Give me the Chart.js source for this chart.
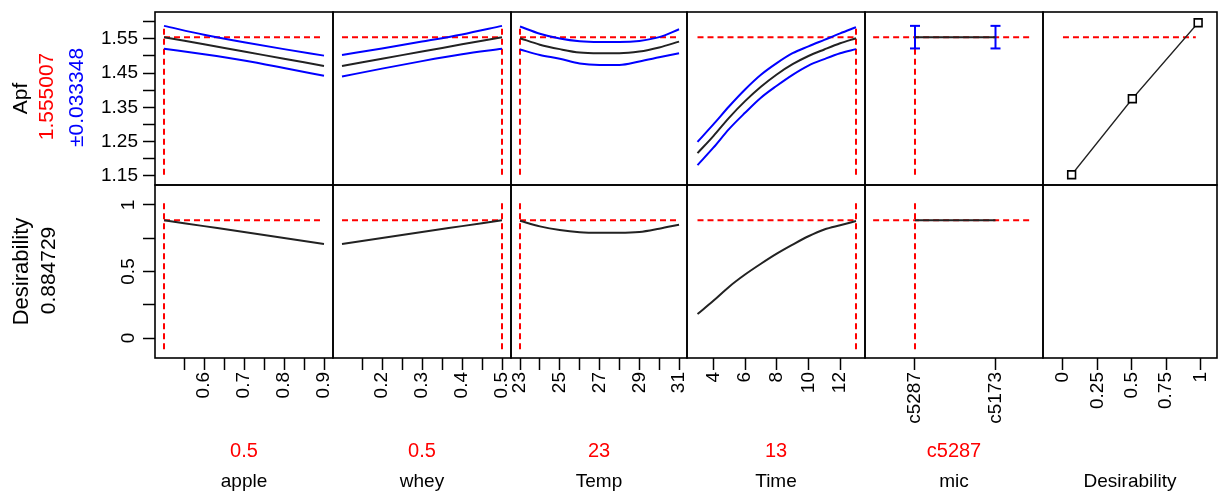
<!DOCTYPE html>
<html>
<head>
<meta charset="utf-8">
<script src="https://cdn.jsdelivr.net/npm/chart.js@4/dist/chart.umd.min.js"></script>
<style>
html,body{margin:0;padding:0;background:#fff;}
#wrap{position:relative;width:1219px;height:493px;}
</style>
</head>
<body>
<div id="wrap"><canvas id="c" width="1219" height="493"></canvas></div>
<script>
// ---------------- DATA ----------------
// factor grids
const appleX = [0.5, 0.6, 0.7, 0.8, 0.9];
const wheyX  = [0.1, 0.2, 0.3, 0.4, 0.5];
const tempX  = [23, 24, 25, 26, 27, 28, 29, 30, 31];
const timeX  = [3, 4, 5, 6, 7, 8, 9, 10, 11, 12, 13];
const micX   = [0, 1];                    // index of mic category
const micCategories = ['c5287', 'c5173'];

// Apf prediction and confidence band
const appleApf   = [1.555, 1.534, 1.513, 1.492, 1.471];
const appleUpper = [1.588, 1.562, 1.540, 1.520, 1.501];
const appleLower = [1.521, 1.505, 1.487, 1.465, 1.442];

const wheyApf    = [1.471, 1.492, 1.513, 1.534, 1.555];
const wheyUpper  = [1.503, 1.522, 1.542, 1.563, 1.588];
const wheyLower  = [1.440, 1.463, 1.485, 1.505, 1.521];

const tempApf    = [1.552, 1.533, 1.520, 1.510, 1.508, 1.508, 1.513, 1.525, 1.542];
const tempUpper  = [1.586, 1.565, 1.551, 1.543, 1.541, 1.541, 1.544, 1.555, 1.578];
const tempLower  = [1.519, 1.503, 1.492, 1.478, 1.474, 1.474, 1.484, 1.496, 1.508];

const timeApf    = [1.216, 1.266, 1.320, 1.368, 1.410, 1.446, 1.476, 1.500, 1.519, 1.537, 1.552];
const timeUpper  = [1.249, 1.300, 1.353, 1.402, 1.445, 1.479, 1.508, 1.528, 1.547, 1.566, 1.584];
const timeLower  = [1.181, 1.232, 1.287, 1.334, 1.378, 1.413, 1.445, 1.472, 1.491, 1.508, 1.520];

const micApf     = [1.555, 1.555];
const micUpper   = [1.588, 1.588];
const micLower   = [1.522, 1.522];

// Desirability traces
const appleDes = [0.885, 0.841, 0.797, 0.752, 0.707];
const wheyDes  = [0.707, 0.752, 0.797, 0.841, 0.885];
const tempDes  = [0.881, 0.839, 0.811, 0.795, 0.791, 0.791, 0.797, 0.822, 0.852];
const timeDes  = [0.180, 0.280, 0.386, 0.477, 0.558, 0.634, 0.702, 0.765, 0.816, 0.848, 0.879];
const micDes   = [0.8847, 0.8847];

// Desirability function (Apf -> desirability)
const desFuncD   = [0.063, 0.504, 0.982];
const desFuncApf = [1.153, 1.375, 1.597];

// Current settings
const apfCurrent = 1.555007;
const desCurrent = 0.884729;
const apfCurrentText = '1.555007';
const apfCIText = '\u00B10.033348';
const desCurrentText = '0.884729';
const factorCurrent = [0.5, 0.5, 23, 13, 0];
const factorCurrentText = ['0.5', '0.5', '23', '13', 'c5287', ''];
const factorNames = ['apple', 'whey', 'Temp', 'Time', 'mic', 'Desirability'];

// guide-line extents
const apfGuideY = [1.153, 1.589];
const desGuideY = [-0.085, 1.04];
const micGuideX = [-0.52, 1.42];
const desGuideX = [0, 0.965];

// Tick values and labels
const appleTicks = [0.55, 0.6, 0.65, 0.7, 0.75, 0.8, 0.85, 0.9];
const appleTickLabels = ['', '0.6', '', '0.7', '', '0.8', '', '0.9'];
const wheyTicks = [0.15, 0.2, 0.25, 0.3, 0.35, 0.4, 0.45, 0.5];
const wheyTickLabels = ['', '0.2', '', '0.3', '', '0.4', '', '0.5'];
const tempTicks = [23, 24, 25, 26, 27, 28, 29, 30, 31];
const tempTickLabels = ['23', '', '25', '', '27', '', '29', '', '31'];
const timeTicks = [4, 6, 8, 10, 12];
const timeTickLabels = ['4', '6', '8', '10', '12'];
const micTicks = [0, 1];
const micTickLabels = micCategories;
const desXTicks = [0, 0.25, 0.5, 0.75, 1];
const desXTickLabels = ['0', '0.25', '0.5', '0.75', '1'];
const apfTicks = [1.15, 1.2, 1.25, 1.3, 1.35, 1.4, 1.45, 1.5, 1.55, 1.6];
const apfTickLabels = ['1.15', '', '1.25', '', '1.35', '', '1.45', '', '1.55', ''];
const desYTicks = [0, 0.25, 0.5, 0.75, 1];
const desYTickLabels = ['0', '', '0.5', '', '1'];

// ---------------- STYLE / LAYOUT ----------------
const FONT = 'Liberation Sans, Arial, Helvetica, sans-serif';
const RED = '#ff0000', BLUE = '#0000ff', BLACK = '#222222';
const LEFT_W = 155, BOTTOM_H = 135;

Chart.defaults.font.family = FONT;
Chart.defaults.color = '#000';

function pts(xs, ys) { return xs.map((x, i) => ({x: x, y: ys[i]})); }
function line(xs, ys, xA, yA, color, extra) {
  return Object.assign({
    data: pts(xs, ys), xAxisID: xA, yAxisID: yA, showLine: true,
    borderColor: color, backgroundColor: color, borderWidth: 2,
    pointRadius: 0, pointHoverRadius: 0, fill: false,
    cubicInterpolationMode: 'monotone'
  }, extra || {});
}
const dash = {borderDash: [6, 4], borderWidth: 2, cubicInterpolationMode: 'default', tension: 0};

function xScale(min, max, ticks, labels, title, weight) {
  return {
    type: 'linear', position: 'bottom', stack: 'cols', stackWeight: weight,
    min: min, max: max,
    afterBuildTicks: s => { s.ticks = ticks.map(v => ({value: v})); },
    afterFit: s => { s.height = BOTTOM_H; s.paddingLeft = 0; s.paddingRight = 0; s.paddingTop = 0; s.paddingBottom = 0; },
    grid: {drawOnChartArea: false, tickLength: 12, tickColor: '#000', tickWidth: 1.5},
    border: {display: false},
    ticks: {autoSkip: false, minRotation: 90, maxRotation: 90, padding: 2, color: '#000',
            font: {size: 19}, callback: (v, i) => labels[i]},
    title: {display: true, text: title, color: '#000', font: {size: 19}, padding: {top: 0, bottom: 0}}
  };
}
function yScale(min, max, ticks, labels, title, rot, pad, titleSize) {
  return {
    type: 'linear', position: 'left', stack: 'rows', min: min, max: max,
    afterBuildTicks: s => { s.ticks = ticks.map(v => ({value: v})); },
    afterFit: s => { s.width = LEFT_W; s.paddingLeft = 0; s.paddingRight = 0; s.paddingTop = 0; s.paddingBottom = 0; },
    grid: {drawOnChartArea: false, tickLength: 12, tickColor: '#000', tickWidth: 1.5},
    border: {display: false},
    ticks: {autoSkip: false, minRotation: rot, maxRotation: rot, padding: pad, color: '#000',
            crossAlign: rot ? 'center' : 'near',
            font: {size: 19}, callback: (v, i) => labels[i]},
    title: {display: true, text: title, color: '#000', font: {size: titleSize}, padding: {top: 9, bottom: 0}}
  };
}

const colAxes = ['xApple', 'xWhey', 'xTemp', 'xTime', 'xMic', 'xDes'];
const rowAxes = ['yApf', 'yDes'];

const framePlugin = {
  id: 'frame',
  afterDatasetsDraw(chart) {
    const ctx = chart.ctx;
    ctx.save();
    ctx.strokeStyle = '#000';
    ctx.lineWidth = 1.6;
    colAxes.forEach(xa => rowAxes.forEach(ya => {
      const xs = chart.scales[xa], ys = chart.scales[ya];
      ctx.strokeRect(xs.left, ys.top, xs.right - xs.left, ys.bottom - ys.top);
    }));
    ctx.restore();
  },
  afterDraw(chart) {
    const ctx = chart.ctx;
    ctx.save();
    function vtext(txt, color, x, cy, size) {
      ctx.save();
      ctx.translate(x, cy);
      ctx.rotate(-Math.PI / 2);
      ctx.font = size + 'px ' + FONT;
      ctx.fillStyle = color;
      ctx.textAlign = 'center';
      ctx.textBaseline = 'alphabetic';
      ctx.fillText(txt, 0, 0);
      ctx.restore();
    }
    const ya = chart.scales.yApf, yd = chart.scales.yDes;
    vtext(apfCurrentText, RED, ya.left + 53, (ya.top + ya.bottom) / 2 - 2, 21);
    vtext(apfCIText, BLUE, ya.left + 83, (ya.top + ya.bottom) / 2 - 1, 21);
    vtext(desCurrentText, '#000', yd.left + 55, (yd.top + yd.bottom) / 2 - 1, 21);
    ctx.font = '20px ' + FONT;
    ctx.fillStyle = RED;
    ctx.textAlign = 'center';
    ctx.textBaseline = 'alphabetic';
    colAxes.forEach((xa, i) => {
      const s = chart.scales[xa];
      ctx.fillText(factorCurrentText[i], (s.left + s.right) / 2, s.bottom - 36);
    });
    ctx.restore();
  }
};

const datasets = [
  // Apf row
  line(appleX, appleApf, 'xApple', 'yApf', BLACK),
  line(appleX, appleUpper, 'xApple', 'yApf', BLUE),
  line(appleX, appleLower, 'xApple', 'yApf', BLUE),
  line(wheyX, wheyApf, 'xWhey', 'yApf', BLACK),
  line(wheyX, wheyUpper, 'xWhey', 'yApf', BLUE),
  line(wheyX, wheyLower, 'xWhey', 'yApf', BLUE),
  line(tempX, tempApf, 'xTemp', 'yApf', BLACK),
  line(tempX, tempUpper, 'xTemp', 'yApf', BLUE),
  line(tempX, tempLower, 'xTemp', 'yApf', BLUE),
  line(timeX, timeApf, 'xTime', 'yApf', BLACK),
  line(timeX, timeUpper, 'xTime', 'yApf', BLUE),
  line(timeX, timeLower, 'xTime', 'yApf', BLUE),
  line(micX, micApf, 'xMic', 'yApf', BLACK, {tension: 0, cubicInterpolationMode: 'default'}),
  line([micX[0], micX[0]], [micLower[0], micUpper[0]], 'xMic', 'yApf', BLUE,
       {pointStyle: 'line', pointRadius: 5, pointBorderWidth: 2, pointBorderColor: BLUE, cubicInterpolationMode: 'default'}),
  line([micX[1], micX[1]], [micLower[1], micUpper[1]], 'xMic', 'yApf', BLUE,
       {pointStyle: 'line', pointRadius: 5, pointBorderWidth: 2, pointBorderColor: BLUE, cubicInterpolationMode: 'default'}),
  line(desFuncD, desFuncApf, 'xDes', 'yApf', BLACK,
       {borderWidth: 1.3, tension: 0, cubicInterpolationMode: 'default', pointStyle: 'rect', pointRadius: 5.5,
        pointBorderWidth: 1.6, pointBorderColor: '#000', pointBackgroundColor: '#fff'}),
  // Desirability row
  line(appleX, appleDes, 'xApple', 'yDes', BLACK),
  line(wheyX, wheyDes, 'xWhey', 'yDes', BLACK),
  line(tempX, tempDes, 'xTemp', 'yDes', BLACK),
  line(timeX, timeDes, 'xTime', 'yDes', BLACK),
  line(micX, micDes, 'xMic', 'yDes', BLACK, {tension: 0, cubicInterpolationMode: 'default'}),
  // red guides - Apf row
  line([appleX[0], appleX[appleX.length - 1]], [apfCurrent, apfCurrent], 'xApple', 'yApf', RED, dash),
  line([factorCurrent[0], factorCurrent[0]], apfGuideY, 'xApple', 'yApf', RED, dash),
  line([wheyX[0], wheyX[wheyX.length - 1]], [apfCurrent, apfCurrent], 'xWhey', 'yApf', RED, dash),
  line([factorCurrent[1], factorCurrent[1]], apfGuideY, 'xWhey', 'yApf', RED, dash),
  line([tempX[0], tempX[tempX.length - 1]], [apfCurrent, apfCurrent], 'xTemp', 'yApf', RED, dash),
  line([factorCurrent[2], factorCurrent[2]], apfGuideY, 'xTemp', 'yApf', RED, dash),
  line([timeX[0], timeX[timeX.length - 1]], [apfCurrent, apfCurrent], 'xTime', 'yApf', RED, dash),
  line([factorCurrent[3], factorCurrent[3]], apfGuideY, 'xTime', 'yApf', RED, dash),
  line(micGuideX, [apfCurrent, apfCurrent], 'xMic', 'yApf', RED, dash),
  line([factorCurrent[4], factorCurrent[4]], apfGuideY, 'xMic', 'yApf', RED, dash),
  line(desGuideX, [apfCurrent, apfCurrent], 'xDes', 'yApf', RED, dash),
  // red guides - Desirability row
  line([appleX[0], appleX[appleX.length - 1]], [desCurrent, desCurrent], 'xApple', 'yDes', RED, dash),
  line([factorCurrent[0], factorCurrent[0]], desGuideY, 'xApple', 'yDes', RED, dash),
  line([wheyX[0], wheyX[wheyX.length - 1]], [desCurrent, desCurrent], 'xWhey', 'yDes', RED, dash),
  line([factorCurrent[1], factorCurrent[1]], desGuideY, 'xWhey', 'yDes', RED, dash),
  line([tempX[0], tempX[tempX.length - 1]], [desCurrent, desCurrent], 'xTemp', 'yDes', RED, dash),
  line([factorCurrent[2], factorCurrent[2]], desGuideY, 'xTemp', 'yDes', RED, dash),
  line([timeX[0], timeX[timeX.length - 1]], [desCurrent, desCurrent], 'xTime', 'yDes', RED, dash),
  line([factorCurrent[3], factorCurrent[3]], desGuideY, 'xTime', 'yDes', RED, dash),
  line(micGuideX, [desCurrent, desCurrent], 'xMic', 'yDes', RED, dash),
  line([factorCurrent[4], factorCurrent[4]], desGuideY, 'xMic', 'yDes', RED, dash)
];

new Chart(document.getElementById('c'), {
  type: 'scatter',
  data: {datasets: datasets},
  options: {
    responsive: false,
    animation: false,
    devicePixelRatio: 1,
    layout: {autoPadding: false, padding: {top: 12, right: 2, left: 0, bottom: 0}},
    plugins: {legend: {display: false}, tooltip: {enabled: false}},
    events: [],
    scales: {
      // left stack is laid out in reverse order: the later axis goes on top
      yDes: yScale(-0.15, 1.15, desYTicks, desYTickLabels, 'Desirability', 90, 1, 22),
      yApf: yScale(1.123, 1.6285, apfTicks, apfTickLabels, 'Apf', 0, 5, 21),
      xApple: xScale(0.4775, 0.9225, appleTicks, appleTickLabels, factorNames[0], 178),
      xWhey: xScale(0.0775, 0.5225, wheyTicks, wheyTickLabels, factorNames[1], 178),
      xTemp: xScale(22.547, 31.40, tempTicks, tempTickLabels, factorNames[2], 176),
      xTime: xScale(2.337, 13.568, timeTicks, timeTickLabels, factorNames[3], 178),
      xMic: xScale(-0.621, 1.59, micTicks, micTickLabels, factorNames[4], 178),
      xDes: xScale(-0.145, 1.119, desXTicks, desXTickLabels, factorNames[5], 174)
    }
  },
  plugins: [framePlugin]
});
</script>
</body>
</html>
